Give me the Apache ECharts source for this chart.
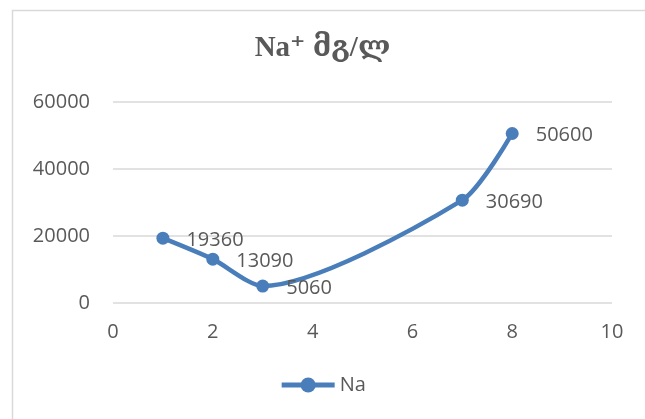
<!DOCTYPE html>
<html>
<head>
<meta charset="utf-8">
<script src="https://cdn.jsdelivr.net/npm/echarts@6/dist/echarts.min.js"></script>
<style>
  html, body { margin: 0; padding: 0; background: #fff; }
  #chart { width: 645px; height: 419px; }
</style>
</head>
<body>
<div id="chart"></div>
<script>
// Sodium concentration readings
const seriesName = 'Na';
const xValues = [1, 2, 3, 7, 8];
const naValues = [19360, 13090, 5060, 30690, 50600];
const chartTitle = 'Na\u207A მგ/ლ';

const textColor = '#595959';
const lineColor = '#4A7EBB';
const gridColor = '#d9d9d9';
const labelFont = '"Open Sans", "Liberation Sans", sans-serif';

const chart = echarts.init(document.getElementById('chart'), null, { renderer: 'canvas' });

chart.setOption({
  backgroundColor: '#ffffff',
  animation: false,
  graphic: [{
    type: 'rect',
    shape: { x: 12.5, y: 10.5, width: 700, height: 500 },
    style: { fill: 'none', stroke: '#d9d9d9', lineWidth: 1.5 },
    silent: true
  }],
  title: {
    text: chartTitle,
    left: 'center',
    top: 29,
    textStyle: {
      color: textColor,
      fontSize: 29,
      fontWeight: 'bold',
      fontFamily: '"Liberation Serif", "DejaVu Serif", serif'
    }
  },
  legend: {
    bottom: 19,
    left: 'center',
    itemWidth: 53,
    itemHeight: 19,
    itemGap: 4,
    lineStyle: { width: 5 },
    textStyle: { color: textColor, fontSize: 20, fontFamily: labelFont },
    data: [seriesName]
  },
  grid: { left: 113, right: 33, top: 102, bottom: 116 },
  xAxis: {
    type: 'value',
    min: 0,
    max: 10,
    interval: 2,
    axisLine: { show: false },
    axisTick: { show: false },
    splitLine: { show: false },
    axisLabel: { color: textColor, fontSize: 20, fontFamily: labelFont, margin: 19 }
  },
  yAxis: {
    type: 'value',
    min: 0,
    max: 60000,
    interval: 20000,
    axisLine: { show: false },
    axisTick: { show: false },
    splitLine: { lineStyle: { color: gridColor, width: 1.5 } },
    axisLabel: {
      color: textColor, fontSize: 20, fontFamily: labelFont, margin: 23,
      formatter: v => String(v)
    }
  },
  series: [{
    name: seriesName,
    type: 'line',
    data: xValues.map((x, i) => [x, naValues[i]]),
    smooth: 0.25,
    symbol: 'circle',
    symbolSize: 13,
    lineStyle: { color: lineColor, width: 4.5 },
    itemStyle: { color: lineColor },
    label: {
      show: true,
      position: 'right',
      distance: 17,
      offset: [0, 2],
      color: textColor,
      fontSize: 20,
      fontFamily: labelFont,
      formatter: p => String(p.value[1])
    }
  }]
});
</script>
</body>
</html>
